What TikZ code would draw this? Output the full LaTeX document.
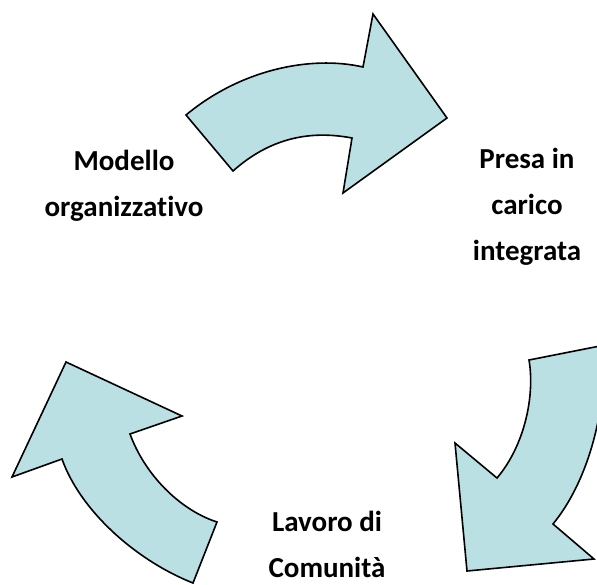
\documentclass[tikz,border=0pt]{standalone}
\usepackage{fontspec}
\setmainfont{Carlito}[Ligatures=NoCommon]
\definecolor{arrowblue}{RGB}{186,224,228}

\begin{document}
\begin{tikzpicture}[x=1pt,y=-1pt]
\useasboundingbox (0,0) rectangle (597,584);

\begin{scope}[every path/.style={draw=black,fill=arrowblue,line width=1.6pt,line join=miter}]
    % top arrow
    \path (186,115) .. controls (240,70) and (310,55) .. (363,67) -- (373,14) -- (447,118)
        -- (343,193) -- (352,138) .. controls (310,130) and (270,138) .. (233,171) -- cycle;
    % right arrow
    \path (529,360) .. controls (535,395) and (525,445) .. (497,478) -- (455,443) -- (467,571)
        -- (594,559) -- (553,524) .. controls (585,485) and (606,420) .. (605,345) -- cycle;
    % left arrow
    \path (66,362) -- (182,416) -- (130,434) .. controls (145,475) and (180,510) .. (217,522)
        -- (193,583) .. controls (135,560) and (80,510) .. (62,459) -- (12,477) -- cycle;
\end{scope}

\begin{scope}[every node/.style={font=\fontsize{29}{46}\selectfont\bfseries,align=center,anchor=center}]
    \node (modello) at (124,186) {Modello\\organizzativo};
    \node (presa) at (527,207) {Presa in\\carico\\integrata};
    \node (lavoro) at (327,544) {Lavoro di\\Comunità};
\end{scope}
\end{tikzpicture}
\end{document}
